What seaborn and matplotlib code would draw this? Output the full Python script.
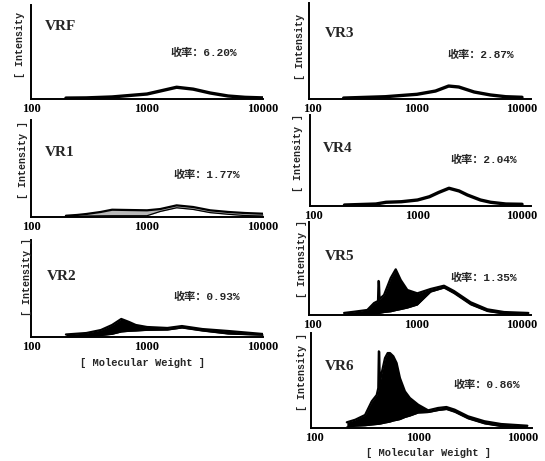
import matplotlib
matplotlib.use("Agg")
import matplotlib.pyplot as plt
import seaborn as sns

sns.set_theme(style="white")
plt.rcParams['font.family'] = ['Liberation Serif', 'Noto Sans CJK SC']

# ---------------- data (relative intensity, % of panel full scale) ----------------
names = ["VRF", "VR1", "VR2", "VR3", "VR4", "VR5", "VR6"]
yields = ["6.20%", "1.77%", "0.93%", "2.87%", "2.04%", "1.35%", "0.86%"]
tick_values = [100, 1000, 10000]
tick_labels = ["100", "1000", "10000"]

vrf_mw = [200, 300, 500, 700, 1000, 1300, 1800, 2500, 3500, 5000, 7000, 10000]
vrf_up = [1.0, 1.2, 2.2, 3.7, 5.3, 8.5, 12.5, 10.5, 6.4, 3.2, 1.8, 1.2]

vr1_mw = [200, 250, 300, 400, 500, 700, 1000, 1300, 1800, 2500, 3500, 5000, 7000, 10000]
vr1_up = [1.3, 2.1, 3.1, 5.2, 7.5, 7.2, 6.9, 8.2, 12.0, 10.3, 6.9, 5.2, 4.1, 3.4]
vr1_lo = [0.3, 0.5, 1.0, 1.2, 1.3, 1.3, 1.3, 5.7, 9.5, 7.8, 4.5, 2.8, 1.5, 1.0]

vr2_mw = [200, 300, 400, 500, 600, 700, 800, 1000, 1500, 2000, 3000, 5000, 10000]
vr2_up = [2.6, 4.1, 7.2, 12.4, 18.6, 15.5, 12.4, 10.3, 9.3, 11.3, 8.2, 6.2, 3.1]
vr2_lo = [0.0, 0.7, 1.5, 2.8, 5.2, 5.9, 6.2, 6.9, 7.2, 9.3, 6.2, 3.1, 1.8]

vr3_mw = [200, 500, 1000, 1500, 2000, 2500, 3500, 5000, 7000, 10000]
vr3_up = [1.0, 2.4, 4.9, 8.3, 13.5, 12.5, 7.3, 4.2, 2.4, 1.8]

vr4_mw = [200, 400, 500, 700, 1000, 1300, 1600, 2000, 2500, 3000, 4000, 5000, 7000, 10000]
vr4_up = [1.1, 2.2, 4.1, 4.7, 6.6, 10.2, 15.0, 19.5, 16.5, 12.1, 6.6, 4.1, 2.2, 1.9]

vr5_mw = [202, 251, 336, 390, 425, 430, 434, 440, 485, 562, 627, 700, 809, 1007, 1349, 1807,
          2250, 3243, 4677, 6745, 11500]
vr5_up = [2.2, 3.5, 5.4, 12.9, 15.0, 36.6, 36.0, 17.2, 21.5, 39.8, 49.1, 37.6, 26.9, 23.3, 28.0,
          31.5, 25.8, 13.7, 6.1, 3.2, 2.2]
vr5_lo = [0.0, 0.3, 0.8, 1.1, 1.4, 1.5, 1.6, 1.8, 2.7, 3.5, 4.8, 5.9, 7.5, 10.8, 24.7, 29.0,
          23.1, 11.0, 3.8, 1.1, 0.5]

vr6_mw = [206, 248, 308, 357, 398, 412, 417, 421, 426, 444, 478, 507, 533, 574, 617, 664, 741,
          826, 993, 1236, 1540, 1849, 2218, 2977, 4280, 6166, 11000]
vr6_up = [6.0, 8.7, 13.7, 28.1, 34.7, 42.0, 80.7, 80.0, 47.4, 57.9, 73.7, 78.9, 78.9, 75.5, 68.4,
          52.6, 38.6, 31.6, 24.5, 18.6, 21.1, 22.1, 19.3, 12.3, 7.1, 4.2, 2.4]
vr6_lo = [1.1, 1.9, 2.4, 3.2, 3.7, 3.9, 4.0, 4.0, 4.1, 4.5, 5.3, 5.8, 6.3, 7.4, 8.1, 8.9, 11.1,
          12.6, 15.8, 16.3, 18.4, 19.5, 16.6, 9.7, 4.4, 1.6, 0.5]

series = {
    "VRF": (vrf_mw, vrf_up, None, None),
    "VR1": (vr1_mw, vr1_up, vr1_lo, "0.72"),
    "VR2": (vr2_mw, vr2_up, vr2_lo, "black"),
    "VR3": (vr3_mw, vr3_up, None, None),
    "VR4": (vr4_mw, vr4_up, None, None),
    "VR5": (vr5_mw, vr5_up, vr5_lo, "black"),
    "VR6": (vr6_mw, vr6_up, vr6_lo, "black"),
}

# ---------------- layout (pixel boxes: left, top, right, bottom) ----------------
W, H = 545, 461
fig = plt.figure(figsize=(W / 100, H / 100), dpi=100)

boxes = {
    "VRF": (31, 5, 263, 99),
    "VR1": (31, 120, 263, 217),
    "VR2": (31, 240, 263, 337),
    "VR3": (309, 3, 531, 99),
    "VR4": (310, 115, 531, 206),
    "VR5": (309, 222, 531, 315),
    "VR6": (311, 333, 532, 428),
}
xlims = {"L": (100, 10000), "R": (93.6, 12180)}
title_pos = {"VRF": (45, 27), "VR1": (45, 153), "VR2": (47, 277), "VR3": (325, 33),
             "VR4": (323, 148), "VR5": (325, 257), "VR6": (325, 367)}
yield_pos = {"VRF": (170, 53), "VR1": (173, 175), "VR2": (173, 297), "VR3": (447, 55),
             "VR4": (450, 160), "VR5": (450, 278), "VR6": (453, 385)}
inten_pos = {"VRF": (20, 78), "VR1": (23, 199), "VR2": (27, 316), "VR3": (300, 80),
             "VR4": (298, 192), "VR5": (302, 298), "VR6": (302, 411)}


def fx(px):
    return px / W


def fy(py):
    return 1 - py / H


mono = ['Liberation Mono', 'DejaVu Sans Mono']
cjk = ['Liberation Mono', 'Noto Sans CJK SC']

for name, yl in zip(names, yields):
    l, t, r, b = boxes[name]
    ax = fig.add_axes([fx(l), fy(b), (r - l) / W, (b - t) / H])
    mw, up, lo, fc = series[name]
    if lo is not None:
        ax.fill_between(mw, lo, up, color=fc, lw=0, zorder=1)
        sns.lineplot(x=mw, y=lo, ax=ax, color="black", lw=0.9, estimator=None, sort=False, zorder=2)
        lw = 1.6
    else:
        lw = 2.4
    sns.lineplot(x=mw, y=up, ax=ax, color="black", lw=lw, estimator=None, sort=False, zorder=3)
    ax.set_xscale("log")
    ax.set_xlim(*(xlims["L"] if l < 200 else xlims["R"]))
    ax.set_ylim(0, 100)
    ax.set_xticks(tick_values)
    ax.set_xticklabels(tick_labels)
    ax.minorticks_off()
    ax.set_yticks([])
    ax.set_xlabel("")
    ax.set_ylabel("")
    ax.tick_params(axis="x", direction="in", length=4, width=1.2, pad=3, labelsize=9,
                   colors="black")
    for lab in ax.get_xticklabels():
        lab.set_fontweight("bold")
        lab.set_family(['Liberation Serif'])
    for s in ["top", "right"]:
        ax.spines[s].set_visible(False)
    for s in ["left", "bottom"]:
        ax.spines[s].set_color("black")
        ax.spines[s].set_linewidth(1.4)
    ax.set_facecolor("none")

    tx, ty = title_pos[name]
    fig.text(fx(tx), fy(ty), name, ha="left", va="center", fontsize=11,
             fontweight="bold", family=['Liberation Serif'])
    yx, yy = yield_pos[name]
    fig.text(fx(yx), fy(yy), "收率：" + yl, ha="left", va="center", fontsize=8,
             fontweight="bold", family=cjk)
    ix, iy = inten_pos[name]
    lbl = "[ Intensity" if name in ("VRF", "VR3") else "[ Intensity ]"
    fig.text(fx(ix), fy(iy), lbl, rotation=90, ha="center", va="bottom", fontsize=7.2,
             fontweight="bold", family=mono)

fig.text(fx(143), fy(363), "[ Molecular Weight ]", ha="center", va="center", fontsize=7.5,
         fontweight="bold", family=mono)
fig.text(fx(428), fy(453), "[ Molecular Weight ]", ha="center", va="center", fontsize=7.5,
         fontweight="bold", family=mono)

fig.savefig("out.png", dpi=100, facecolor="white")
